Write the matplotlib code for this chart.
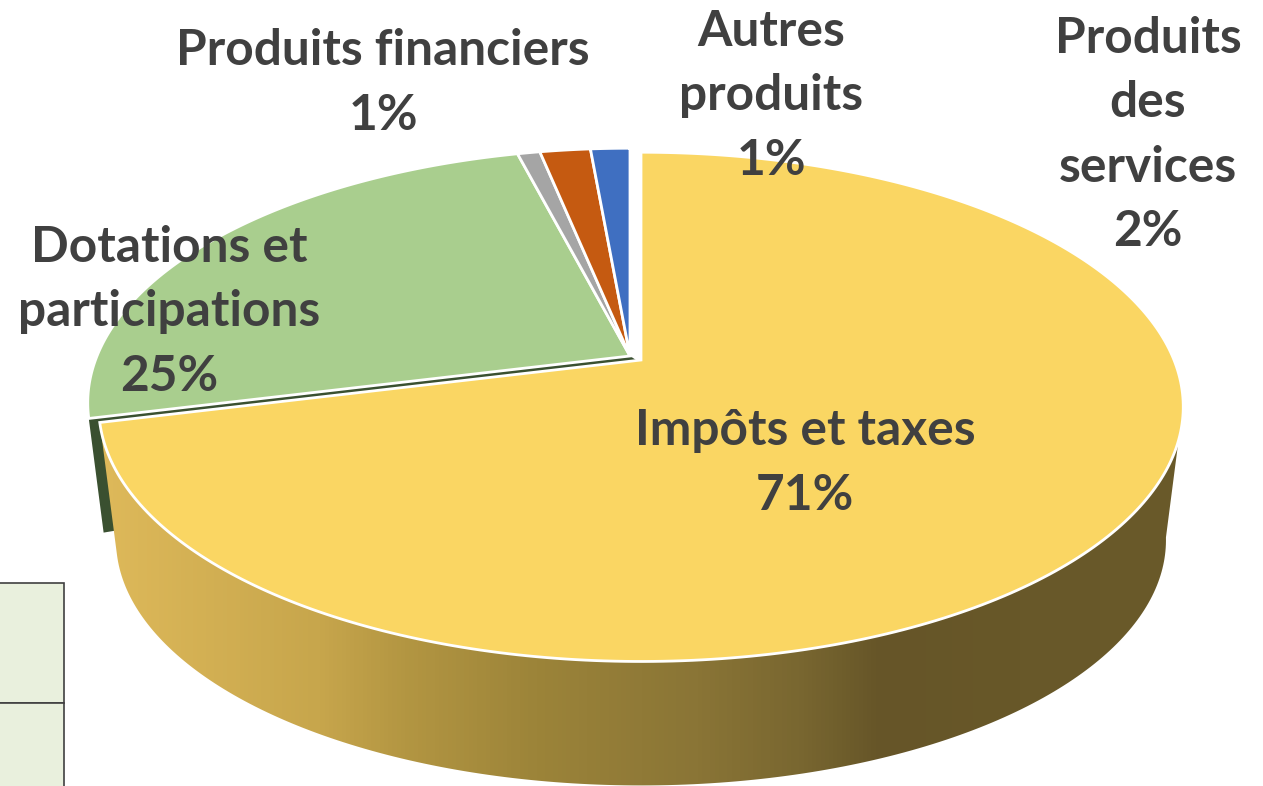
import numpy as np
import matplotlib.pyplot as plt
from matplotlib.colors import LinearSegmentedColormap
from matplotlib.patches import Polygon, Rectangle

# slice shares, clockwise from 12 o'clock
slices = ["Impôts et taxes", "Dotations et participations", "Produits financiers",
          "Autres produits", "Produits des services"]
shares = [71.1, 24.9, 0.8, 1.8, 1.4]
percents = [71, 25, 1, 1, 2]
colors = ["#FAD663", "#A9CE8E", "#A5A5A5", "#C55A11", "#3F6FC1"]

# label text split as in the picture, with the centre of the block in pixels
label_lines = [["Impôts et taxes"], ["Dotations et", "participations"], ["Produits financiers"],
               ["Autres", "produits"], ["Produits", "des", "services"]]
label_pos = [(805, 463), (169, 312), (383, 83), (771, 96), (1148, 135)]

# perspective of the disc, pixels
CX, CY = 641, 360
A, B, K = 533, 246, 0.184
A2, B2, CY2 = 516, 237, 495
OFFSET = (-11, -4)  # the smaller slices are pulled away from the yellow one


def ring(theta, a=A, b=B, cy=CY):
    # theta in degrees clockwise from the top of the disc
    t = np.radians(theta)
    d = 1 + K * np.cos(t)
    return np.column_stack([CX + a * np.sin(t) / d, cy - b * np.cos(t) / d])


fig = plt.figure(figsize=(12.63, 7.86), dpi=100)
ax = fig.add_axes([0, 0, 1, 1])
ax.set_xlim(0, 1263)
ax.set_ylim(786, 0)
ax.axis("off")

# bit of a table cut off at the bottom left
ax.add_patch(Rectangle((-5, 583), 69, 120, fc="#E9F0DD", ec="#404040", lw=1.2, zorder=1))
ax.add_patch(Rectangle((-5, 703), 69, 100, fc="#E9F0DD", ec="#404040", lw=1.2, zorder=1))

edges = np.concatenate([[0], np.cumsum(shares)]) * 3.6

# cut face of the green slice, only a dark sliver stays visible
end_green = edges[1]
p_top = ring(end_green)[0] + OFFSET
p_low = ring(end_green, A2, B2, CY2)[0] + OFFSET
p_low = p_top + (p_low - p_top) * 0.86
ax.add_patch(Polygon([(CX + OFFSET[0], CY + OFFSET[1]), p_top, p_low, p_low + (12, -2),
                      (CX + 10, CY + 10)], fc="#3A5030", ec="none", zorder=2))

# side wall of the yellow slice with its horizontal shading
theta = np.linspace(100, edges[1], 200)
wall = np.vstack([ring(theta), ring(theta[::-1], A2, B2, CY2)])
shade = LinearSegmentedColormap.from_list("wall", [
    (0.0, "#DEB95A"), (0.2, "#C7A64C"), (0.28, "#B39642"), (0.4, "#9C8439"),
    (0.55, "#8A7536"), (0.65, "#786630"), (0.72, "#665528"), (0.85, "#685829"), (1.0, "#6A5A2A")])
im = ax.imshow(np.linspace(0, 1, 256)[None, :], cmap=shade, extent=(100, 1185, 786, 300),
               aspect="auto", zorder=3)
wall_patch = Polygon(wall, fc="none", ec="none", transform=ax.transData)
ax.add_patch(wall_patch)
im.set_clip_path(wall_patch)
ax.set_xlim(0, 1263)
ax.set_ylim(786, 0)

# top faces of the slices
for i in range(len(shares)):
    th = np.linspace(edges[i], edges[i + 1], 300)
    pts = np.vstack([[(CX, CY)], ring(th)])
    if i > 0:
        pts = pts + OFFSET
    ax.add_patch(Polygon(pts, fc=colors[i], ec="white", lw=2, joinstyle="miter", zorder=4))

for lines, pct, (x, y) in zip(label_lines, percents, label_pos):
    ax.text(x, y, "\n".join(lines + [f"{pct}%"]), ha="center", va="center", family="Lato",
            fontweight="bold", fontsize=35.7, color="#404040", linespacing=1.52, zorder=5)

fig.savefig("out.png", dpi=100)
